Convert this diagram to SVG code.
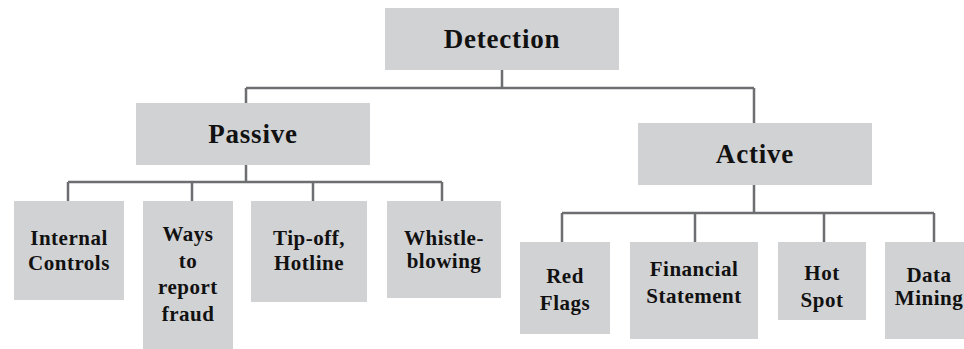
<svg xmlns="http://www.w3.org/2000/svg" width="964" height="349" viewBox="0 0 964 349">
  <style>
    .box { fill: #d1d2d4; }
    .lbl { font-family: "Liberation Serif", "Times New Roman", serif; font-weight: bold; fill: #111; text-anchor: middle; }
    .h1 { font-size: 27px; letter-spacing: 0.8px; }
    .h2 { font-size: 21px; letter-spacing: 0.5px; }
    .wire { fill: none; stroke: #6d6e71; stroke-width: 2.5; }
  </style>
  <rect width="964" height="349" fill="#ffffff"/>

  <!-- tree connectors -->
  <g id="connectors" class="wire">
    <path d="M502 70 V88 M246 88 H754 M246 88 V103 M754 88 V123"/>
    <path d="M246 165 V182 M68 182 H442 M68 182 V201 M192 182 V201 M313 182 V201 M442 182 V201"/>
    <path d="M754 185 V213 M562 213 H934 M562 213 V242 M695 213 V242 M824 213 V242 M934 213 V242"/>
  </g>

  <g id="detection">
    <rect class="box" x="385" y="8" width="234" height="62"/>
    <text class="lbl h1" x="502" y="48">Detection</text>
  </g>

  <g id="passive">
    <rect class="box" x="136" y="103" width="234" height="62"/>
    <text class="lbl h1" x="253" y="143">Passive</text>
  </g>

  <g id="active">
    <rect class="box" x="638" y="123" width="234" height="62"/>
    <text class="lbl h1" x="755" y="163">Active</text>
  </g>

  <g id="internal-controls">
    <rect class="box" x="14" y="201" width="110" height="99"/>
    <text class="lbl h2" x="69"><tspan x="69" y="245">Internal</tspan><tspan x="69" y="270">Controls</tspan></text>
  </g>

  <g id="ways-to-report">
    <rect class="box" x="143" y="201" width="90" height="150"/>
    <text class="lbl h2" x="188"><tspan x="188" y="241">Ways</tspan><tspan x="188" y="268">to</tspan><tspan x="188" y="294">report</tspan><tspan x="188" y="321">fraud</tspan></text>
  </g>

  <g id="tip-off">
    <rect class="box" x="251" y="201" width="116" height="101"/>
    <text class="lbl h2" x="309"><tspan x="309" y="245">Tip-off,</tspan><tspan x="309" y="270">Hotline</tspan></text>
  </g>

  <g id="whistle-blowing">
    <rect class="box" x="387" y="201" width="114" height="97"/>
    <text class="lbl h2" x="444"><tspan x="444" y="245">Whistle-</tspan><tspan x="444" y="268">blowing</tspan></text>
  </g>

  <g id="red-flags">
    <rect class="box" x="520" y="242" width="90" height="92"/>
    <text class="lbl h2" x="565"><tspan x="565" y="283">Red</tspan><tspan x="565" y="310">Flags</tspan></text>
  </g>

  <g id="financial-statement">
    <rect class="box" x="630" y="242" width="128" height="97"/>
    <text class="lbl h2" x="694"><tspan x="694" y="276">Financial</tspan><tspan x="694" y="303">Statement</tspan></text>
  </g>

  <g id="hot-spot">
    <rect class="box" x="778" y="242" width="88" height="78"/>
    <text class="lbl h2" x="822"><tspan x="822" y="280">Hot</tspan><tspan x="822" y="307">Spot</tspan></text>
  </g>

  <g id="data-mining">
    <rect class="box" x="885" y="242" width="88" height="97"/>
    <text class="lbl h2" x="929"><tspan x="929" y="282">Data</tspan><tspan x="929" y="305">Mining</tspan></text>
  </g>
</svg>
